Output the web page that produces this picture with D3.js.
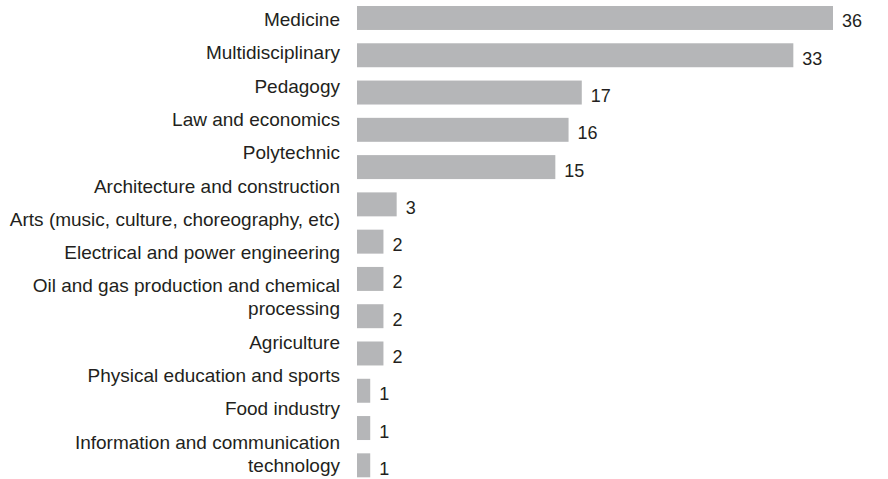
<!DOCTYPE html>
<html>
<head>
<meta charset="utf-8">
<script src="https://cdn.jsdelivr.net/npm/d3@7"></script>
<style>
  html, body { margin: 0; padding: 0; background: #fff; }
  svg { display: block; }
  text { font-family: "Liberation Sans Narrow", "Arial Narrow", "Liberation Sans", sans-serif; fill: #231f20; }
</style>
</head>
<body>
<svg id="chart" width="888" height="479"></svg>
<script>
// categories, one entry per bar; multi-line labels are split into lines
const categories = [
  ["Medicine"],
  ["Multidisciplinary"],
  ["Pedagogy"],
  ["Law and economics"],
  ["Polytechnic"],
  ["Architecture and construction"],
  ["Arts (music, culture, choreography, etc)"],
  ["Electrical and power engineering"],
  ["Oil and gas production and chemical", "processing"],
  ["Agriculture"],
  ["Physical education and sports"],
  ["Food industry"],
  ["Information and communication", "technology"]
];
const values = [36, 33, 17, 16, 15, 3, 2, 2, 2, 2, 1, 1, 1];

const svg = d3.select('#chart');

const y = d3.scaleBand()
  .domain(d3.range(values.length))
  .range([6, 477.3])
  .paddingInner(0.357)
  .paddingOuter(0);

const x = d3.scaleLinear()
  .domain([0, 36])
  .range([357, 833]);

// Bars
{
  svg.append('g').selectAll('rect')
    .data(values)
    .join('rect')
      .attr('x', x(0))
      .attr('y', (d, i) => y(i))
      .attr('width', d => x(d) - x(0))
      .attr('height', y.bandwidth())
      .style('fill', '#b5b6b8');
}

// Value labels
{
  svg.append('g').selectAll('text')
    .data(values)
    .join('text')
      .attr('x', d => x(d) + 9)
      .attr('y', (d, i) => y(i) + y.bandwidth() / 2 + 9.5)
      .style('font-size', '18px')
      .text(d => d);
}

// Category labels: they run as their own text column, not lined up with the bars
{
  const pitch = 33.3, lineH = 23;
  // extra lines that came before each label
  const extra = categories.map((c, i) => d3.sum(categories.slice(0, i), e => e.length - 1));
  const ly = d3.scaleLinear().domain([0, 1]).range([26, 26 + pitch]);

  const g = svg.append('g');
  categories.forEach((lines, i) => {
    const t = g.append('text')
      .attr('x', 340)
      .attr('y', ly(i) + extra[i] * lineH)
      .attr('text-anchor', 'end')
      .style('font-size', '19px');
    lines.forEach((s, k) => {
      t.append('tspan')
        .attr('x', 340)
        .attr('dy', k == 0 ? 0 : lineH)
        .text(s);
    });
  });
}
</script>
</body>
</html>
